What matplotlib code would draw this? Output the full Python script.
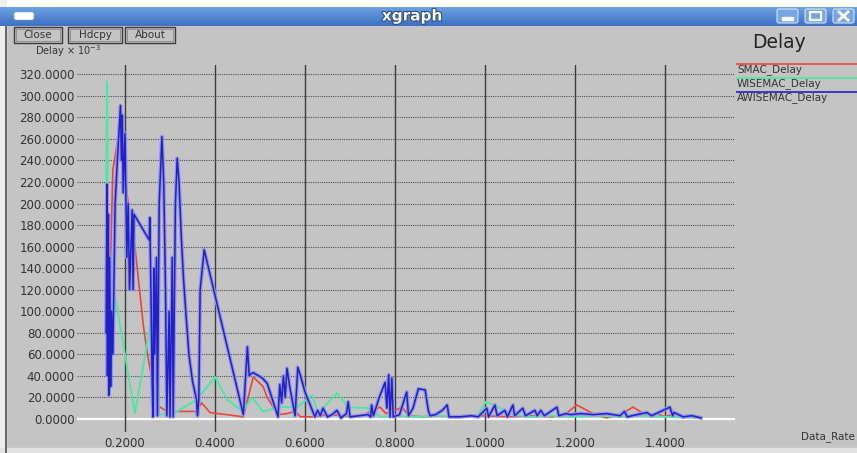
"""Recreation of an xgraph window plotting MAC-protocol delay vs data rate."""

import matplotlib
matplotlib.use("Agg")
import matplotlib.pyplot as plt
import matplotlib.patheffects as pe
import numpy as np
from matplotlib.colors import LinearSegmentedColormap
from matplotlib.patches import Rectangle, FancyBboxPatch

W, H = 857, 453

# --- data ---
smac_x = [0.163, 0.165, 0.168, 0.173, 0.185, 0.193, 0.198, 0.204, 0.222, 0.241,
          0.250, 0.259, 0.267, 0.278, 0.293, 0.359, 0.370, 0.389, 0.463, 0.485,
          0.507, 0.516, 0.540, 0.560, 0.578, 0.590, 0.620, 0.650, 0.690, 0.720,
          0.767, 0.780, 0.800, 0.816, 0.830, 0.860, 0.900, 0.950, 1.000, 1.050,
          1.100, 1.150, 1.180, 1.204, 1.240, 1.270, 1.300, 1.329, 1.360, 1.380,
          1.400, 1.420, 1.440]
smac_y = [45, 60, 150, 231, 262, 273, 250, 210, 160, 86,
          60, 39, 5, 11, 7, 7, 15, 6, 2, 39,
          30, 20, 4, 5, 7, 2, 2, 4, 3, 2,
          11, 5, 8, 11, 3, 2, 3, 2, 3, 2,
          3, 2, 5, 13, 5, 1, 4, 11, 3, 5,
          2, 5, 1]

wisemac_x = [0.158, 0.160, 0.162, 0.165, 0.168, 0.170, 0.173, 0.222, 0.262, 0.267,
             0.278, 0.316, 0.360, 0.400, 0.427, 0.462, 0.482, 0.507, 0.544, 0.582,
             0.616, 0.629, 0.671, 0.696, 0.740, 0.767, 0.800, 0.850, 0.900, 0.950,
             0.985, 1.002, 1.020, 1.038, 1.060, 1.100, 1.150, 1.200, 1.250, 1.300,
             1.350, 1.400, 1.470]
wisemac_y = [190, 313, 185, 100, 126, 80, 126, 5, 101, 5,
             4, 7, 18, 39, 18, 7, 20, 7, 11, 11,
             22, 5, 24, 11, 10, 2, 3, 2, 3, 2,
             4, 16, 13, 9, 4, 2, 3, 2, 3, 2,
             3, 2, 1]

awisemac_x = [0.158, 0.160, 0.161, 0.163, 0.164, 0.166, 0.168, 0.170, 0.173, 0.178,
              0.183, 0.190, 0.192, 0.194, 0.196, 0.200, 0.204, 0.207, 0.210, 0.214,
              0.216, 0.218, 0.220, 0.254, 0.255, 0.258, 0.260, 0.262, 0.264, 0.266,
              0.270, 0.272, 0.276, 0.282, 0.286, 0.290, 0.293, 0.298, 0.300, 0.305,
              0.307, 0.312, 0.316, 0.320, 0.325, 0.330, 0.335, 0.342, 0.350, 0.359,
              0.361, 0.364, 0.367, 0.376, 0.463, 0.472, 0.476, 0.480, 0.485, 0.505,
              0.516, 0.540, 0.544, 0.548, 0.552, 0.556, 0.560, 0.566, 0.578, 0.584,
              0.590, 0.600, 0.622, 0.628, 0.634, 0.640, 0.650, 0.660, 0.671, 0.680,
              0.692, 0.696, 0.700, 0.720, 0.740, 0.746, 0.748, 0.752, 0.765, 0.778,
              0.782, 0.786, 0.789, 0.793, 0.796, 0.810, 0.826, 0.830, 0.840, 0.852,
              0.867, 0.874, 0.878, 0.890, 0.905, 0.916, 0.920, 0.944, 0.970, 0.985,
              1.004, 1.008, 1.022, 1.027, 1.044, 1.050, 1.062, 1.066, 1.084, 1.090,
              1.111, 1.116, 1.124, 1.132, 1.160, 1.164, 1.180, 1.190, 1.213, 1.240,
              1.270, 1.300, 1.310, 1.316, 1.360, 1.370, 1.411, 1.417, 1.420, 1.440,
              1.460, 1.480]
awisemac_y = [80, 218, 40, 190, 22, 150, 30, 100, 60, 200,
              240, 291, 240, 282, 210, 265, 150, 200, 120, 170,
              194, 120, 190, 166, 187, 110, 43, 2, 140, 60,
              150, 3, 200, 262, 220, 120, 3, 100, 2, 150,
              2, 200, 242, 220, 170, 130, 100, 60, 35, 18,
              3, 18, 120, 157, 4, 67, 40, 42, 43, 38,
              33, 2, 32, 15, 40, 20, 47, 30, 3, 48,
              40, 25, 2, 8, 3, 10, 2, 4, 8, 1,
              5, 16, 2, 3, 4, 2, 13, 3, 20, 34,
              10, 41, 2, 38, 2, 4, 25, 3, 10, 28,
              27, 8, 3, 4, 8, 13, 2, 2, 3, 2,
              10, 2, 13, 3, 8, 2, 13, 3, 10, 3,
              8, 3, 8, 3, 11, 3, 5, 4, 5, 4,
              5, 3, 7, 2, 6, 3, 11, 3, 6, 2,
              3, 1]

x_ticks = [0.2, 0.4, 0.6, 0.8, 1.0, 1.2, 1.4]
y_ticks = list(range(0, 321, 20))

series_names = ["SMAC_Delay", "WISEMAC_Delay", "AWISEMAC_Delay"]
series_colors = ["#e8473c", "#4ee6a4", "#2020c8"]

TEXT = "#333333"
GREY = "#c4c4c4"


def main():
    fig = plt.figure(figsize=(W / 100, H / 100), dpi=100)
    fig.patch.set_facecolor(GREY)

    # --- window chrome, drawn in pixel coordinates ---
    bg = fig.add_axes([0, 0, 1, 1])
    bg.axis("off")
    bg.add_patch(Rectangle((0, 0), W, 7, color="white", zorder=1))
    bg.add_patch(Rectangle((0, 0), 6, H, color="#eeeeee", zorder=1))
    bg.add_patch(Rectangle((0, 448), W, 5, color="#e2e2e2", zorder=1))
    bg.plot([6.5, 6.5], [26, H], color="#505050", lw=1.2, zorder=2)

    tb_cmap = LinearSegmentedColormap.from_list("tb", ["#6ea0e2", "#3d72c4"])
    grad = np.linspace(0, 1, 30).reshape(-1, 1)
    bg.imshow(grad, extent=(0, W, 26, 7), cmap=tb_cmap, aspect="auto", zorder=2)
    bg.text(412, 16, "xgraph", color="white", fontsize=11, fontweight="bold",
            ha="center", va="center", zorder=3,
            path_effects=[pe.withStroke(linewidth=1.5, foreground="#2a4a80")])
    bg.add_patch(FancyBboxPatch((15, 13), 18, 6, boxstyle="round,pad=0.5,rounding_size=2",
                                fc="white", ec="#dfe9f7", lw=0.8, zorder=3))

    # min / max / close buttons
    for x0 in (777, 805, 833):
        bg.add_patch(FancyBboxPatch((x0, 9), 21, 14, boxstyle="round,pad=0,rounding_size=2",
                                    fc="#78a6e2", ec="#d2e2f6", lw=0.8, zorder=3))
    bg.add_patch(Rectangle((782, 17), 11, 2.5, color="white", zorder=4))
    bg.add_patch(Rectangle((810, 12), 11, 8, fc="none", ec="white", lw=1.6, zorder=4))
    bg.plot([839, 848], [12, 20], color="white", lw=2, zorder=4)
    bg.plot([839, 848], [20, 12], color="white", lw=2, zorder=4)

    # xgraph buttons
    for (x0, x1), label in zip([(14, 62), (68, 122), (125, 175)], ["Close", "Hdcpy", "About"]):
        bg.add_patch(Rectangle((x0, 27), x1 - x0, 16, fc=GREY, ec="#3a3a3a", lw=1.0, zorder=3))
        bg.add_patch(Rectangle((x0 + 2, 29), x1 - x0 - 4, 12, fc="none", ec="#8a8a8a", lw=0.6, zorder=3))
        bg.text((x0 + x1) / 2, 35.5, label, fontsize=7.5, color=TEXT,
                ha="center", va="center", zorder=4)

    bg.text(35, 51, r"Delay $\times$ 10$^{-3}$", fontsize=7, color=TEXT,
            ha="left", va="center", zorder=4)
    bg.text(752, 42, "Delay", fontsize=13.5, color="#222222", ha="left", va="center", zorder=4)
    bg.text(855, 437, "Data_Rate", fontsize=7.5, color=TEXT, ha="right", va="center", zorder=4)

    # legend
    for i, (name, col) in enumerate(zip(series_names, series_colors)):
        yl = 64 + 14 * i
        bg.plot([736, W], [yl, yl], color=col, lw=1.2, zorder=4, solid_capstyle="butt")
        bg.text(737, yl + 6, name, fontsize=7.5, color=TEXT, ha="left", va="center", zorder=4)

    bg.set_xlim(0, W)
    bg.set_ylim(H, 0)

    # --- plot area ---
    ax = fig.add_axes([77 / W, 1 - 432 / H, (735 - 77) / W, (432 - 65) / H])
    ax.set_facecolor("none")
    ax.set_xlim(0.0933, 1.5556)
    ax.set_ylim(-12.1, 328.6)
    for s in ax.spines.values():
        s.set_visible(False)

    for v in y_ticks[1:]:
        ax.axhline(v, color="#505050", lw=0.8, ls=(0, (1, 1)), zorder=1)
    ax.axhline(0, color="white", lw=1.6, zorder=1)
    for v in x_ticks:
        ax.axvline(v, color="#3c3c3c", lw=1.0, zorder=1)

    ax.plot(smac_x, smac_y, color=series_colors[0], lw=1.2, zorder=3)
    ax.plot(wisemac_x, wisemac_y, color=series_colors[1], lw=1.4, zorder=4)
    ax.plot(awisemac_x, awisemac_y, color="#9494e2", lw=2.8, zorder=5, solid_joinstyle="round")
    ax.plot(awisemac_x, awisemac_y, color=series_colors[2], lw=1.1, zorder=6)

    ax.set_xticks(x_ticks)
    ax.set_xticklabels([f"{v:.4f}" for v in x_ticks])
    ax.set_yticks(y_ticks)
    ax.set_yticklabels([f"{v:.4f}" for v in y_ticks])
    ax.tick_params(length=0, labelsize=8.5, labelcolor=TEXT)
    ax.tick_params(axis="y", pad=1.5)
    ax.tick_params(axis="x", pad=3.5)

    fig.savefig("out.png", dpi=100, facecolor=fig.get_facecolor())
    plt.close(fig)


if __name__ == "__main__":
    main()
